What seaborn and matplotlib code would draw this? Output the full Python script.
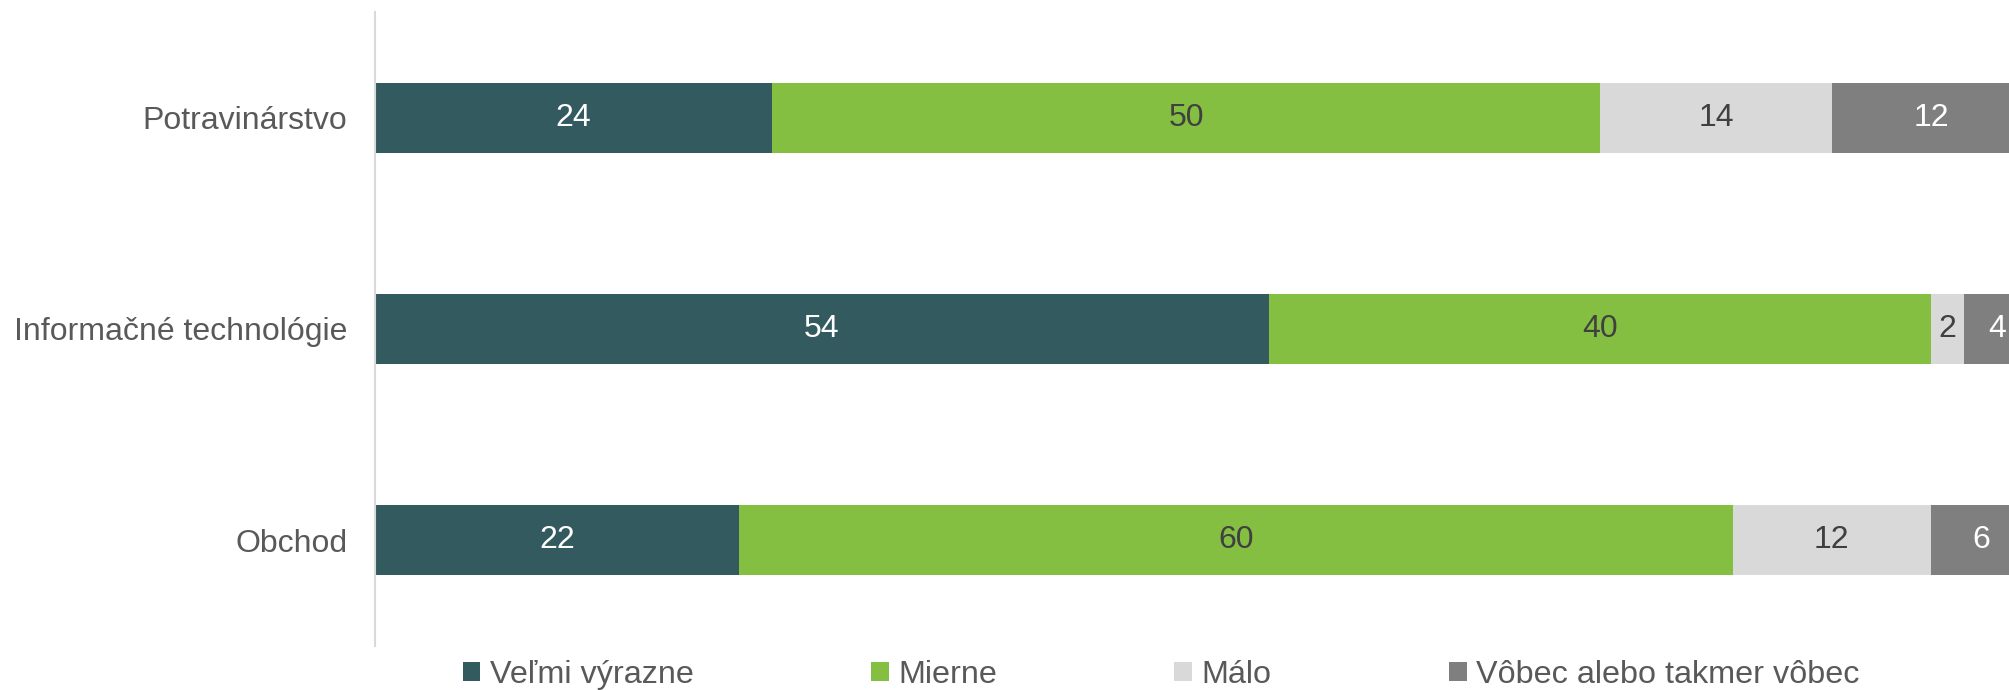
import numpy as np
import pandas as pd
import matplotlib
matplotlib.use("Agg")
import matplotlib.pyplot as plt
import seaborn as sns

# --- data ---
categories = ["Potravinárstvo", "Informačné technológie", "Obchod"]
series_names = ["Veľmi výrazne", "Mierne", "Málo", "Vôbec alebo takmer vôbec"]
velmi = [24, 54, 22]
mierne = [50, 40, 60]
malo = [14, 2, 12]
vobec = [12, 4, 6]

colors = ["#335B5F", "#84BF41", "#D9D9D9", "#7F7F7F"]
label_colors = ["white", "#404040", "#404040", "white"]

sns.set_theme(style="white")
plt.rcParams["font.family"] = ["Liberation Sans", "DejaVu Sans"]

df = pd.DataFrame({"kategoria": categories})
values = [velmi, mierne, malo, vobec]
cum = np.cumsum(np.array(values), axis=0)
for i, name in enumerate(series_names):
    df[name] = values[i]
    df["cum_" + name] = cum[i]

fig = plt.figure(figsize=(20.09, 6.9), dpi=100)
ax = fig.add_axes([0.1867, 0.0638, 0.8133, 0.9188])

# stacked bars: draw cumulative totals from the largest down
for i in reversed(range(len(series_names))):
    sns.barplot(data=df, x="cum_" + series_names[i], y="kategoria", orient="h",
                color=colors[i], width=0.33, label=series_names[i],
                saturation=1, ax=ax, linewidth=0)

# value labels in the middle of each segment
for i, name in enumerate(series_names):
    starts = cum[i] - np.array(values[i])
    for j, v in enumerate(values[i]):
        ax.text(starts[j] + v / 2, j, str(v), ha="center", va="center",
                fontsize=23, color=label_colors[i], clip_on=False)

# the original chart is cut off slightly before 100 on the right
ax.set_xlim(0, 98.7)
ax.set_ylim(2.5, -0.5)
ax.set_xlabel("")
ax.set_ylabel("")
ax.set_xticks([])
ax.tick_params(axis="y", length=0, pad=20, labelsize=23, labelcolor="#595959")
for s in ["top", "right", "bottom"]:
    ax.spines[s].set_visible(False)
ax.spines["left"].set_color("#D9D9D9")
ax.spines["left"].set_linewidth(1.5)

handles, labels = ax.get_legend_handles_labels()
order = [labels.index(n) for n in series_names]
leg = fig.legend([handles[k] for k in order], [labels[k] for k in order],
                 loc="center", bbox_to_anchor=(0.578, 0.022), ncol=4,
                 frameon=False, fontsize=23.3, handlelength=0.55, handleheight=0.55,
                 handletextpad=0.3, columnspacing=5.47, labelcolor="#595959")
if ax.legend_:
    ax.legend_.remove()

fig.savefig("out.png", dpi=100)
